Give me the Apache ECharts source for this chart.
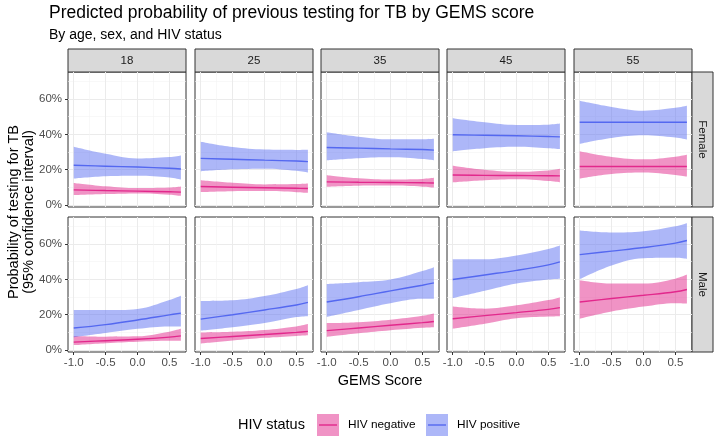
<!DOCTYPE html>
<html>
<head>
<meta charset="utf-8">
<title>Predicted probability of previous testing for TB</title>
<script src="https://cdn.jsdelivr.net/npm/echarts@6.0.0/dist/echarts.min.js"></script>
<style>
  html, body { margin: 0; padding: 0; background: #fff; }
  #chart { width: 720px; height: 440px; }
</style>
</head>
<body>
<div id="chart"></div>
<script>
// x positions of the model predictions (GEMS score)
var xs = [-1.0, -0.5, 0.0, 0.5, 0.68];
var ages = ['18', '25', '35', '45', '55'];
var sexes = ['Female', 'Male'];
var xTicks = [-1.0, -0.5, 0.0, 0.5];
var xMinor = [-0.75, -0.25, 0.25];
var yTicks = [0, 20, 40, 60];
var yMinor = [10, 30, 50, 70];

// one row per age, values in % at xs
var femNegFit = [[8.6, 8.2, 7.9, 7.5, 7.3], [10.5, 10.1, 9.8, 9.5, 9.4], [13.1, 12.9, 12.8, 12.6, 12.5], [17.0, 16.8, 16.7, 16.6, 16.5], [21.8, 21.8, 21.8, 21.8, 21.8]];
var femNegLo  = [[5.6, 6.2, 6.6, 5.9, 5.2], [7.3, 7.8, 7.9, 7.3, 6.9], [10.3, 10.9, 11.0, 10.4, 9.9], [12.8, 14.0, 14.6, 13.6, 12.9], [15.0, 17.6, 18.4, 17.0, 16.1]];
var femNegHi  = [[12.5, 10.6, 9.6, 9.9, 10.5], [14.0, 12.6, 11.7, 11.9, 12.2], [16.9, 15.2, 14.5, 14.8, 15.4], [22.3, 20.0, 18.8, 19.6, 20.6], [30.4, 27.2, 25.9, 27.4, 28.5]];
var femPosFit = [[22.5, 22.0, 21.5, 20.8, 20.4], [26.4, 25.9, 25.4, 24.9, 24.6], [32.6, 32.2, 31.8, 31.4, 31.1], [39.8, 39.5, 39.2, 38.8, 38.6], [46.9, 46.9, 46.9, 46.9, 46.9]];
var femPosLo  = [[15.0, 16.3, 16.6, 15.6, 14.4], [19.1, 20.2, 20.6, 19.4, 18.4], [25.3, 26.5, 27.0, 26.0, 25.3], [30.5, 32.2, 33.0, 32.2, 31.7], [34.7, 38.0, 39.5, 38.2, 37.1]];
var femPosHi  = [[33.0, 29.0, 26.4, 27.2, 28.1], [35.8, 32.8, 31.4, 31.2, 31.3], [41.2, 38.7, 37.2, 37.2, 37.5], [49.1, 46.8, 45.3, 45.5, 46.1], [59.0, 55.5, 53.4, 55.0, 56.2]];
var maleNegFit = [[4.5, 5.3, 6.1, 7.3, 8.0], [6.5, 7.7, 8.8, 10.0, 10.6], [11.0, 12.5, 14.0, 15.5, 16.2], [17.7, 19.5, 21.2, 23.0, 24.0], [27.2, 29.2, 31.0, 33.0, 34.3]];
var maleNegLo  = [[2.8, 3.9, 4.7, 5.2, 5.2], [3.7, 5.4, 6.9, 8.0, 8.4], [7.5, 9.5, 11.2, 12.6, 12.9], [12.1, 14.9, 18.0, 19.0, 19.2], [17.7, 21.8, 24.6, 26.5, 26.3]];
var maleNegHi  = [[8.0, 7.6, 7.8, 10.4, 12.0], [10.0, 10.4, 11.4, 13.4, 14.7], [15.3, 15.8, 17.2, 19.4, 20.7], [24.6, 23.4, 25.3, 28.3, 29.8], [39.5, 37.6, 37.6, 40.4, 42.7]];
var malePosFit = [[12.5, 14.4, 17.0, 19.9, 20.9], [17.5, 20.0, 22.7, 25.5, 27.0], [27.2, 30.2, 33.5, 36.7, 38.0], [39.9, 42.5, 45.1, 48.2, 49.9], [54.0, 56.0, 58.0, 60.5, 62.0]];
var malePosLo  = [[7.3, 9.7, 12.0, 13.4, 13.4], [11.0, 12.9, 15.3, 18.7, 19.2], [18.8, 22.7, 26.5, 29.0, 29.0], [29.3, 33.5, 37.6, 39.9, 40.4], [40.1, 47.9, 52.0, 52.2, 51.6]];
var malePosHi  = [[22.7, 22.6, 23.3, 28.3, 30.7], [27.8, 28.2, 30.6, 34.6, 36.7], [37.4, 38.4, 39.9, 44.7, 46.9], [51.4, 51.4, 53.5, 57.2, 59.2], [67.6, 66.5, 67.2, 70.0, 71.7]];

var font = "'Liberation Sans', Arial, Helvetica, sans-serif";
var negLine = '#E2288C', negBand = 'rgba(226,40,140,0.5)';
var posLine = '#5468F0', posBand = 'rgba(84,104,240,0.48)';

var colLeft = [68, 195, 321, 447, 574];
var rowTop = [72, 217];
var panelW = 118, panelH = 135;
var xMin = -1.09, xMax = 0.76, yMin = -1.1, yMax = 75.3;

var chart = echarts.init(document.getElementById('chart'));
var grids = [], xAxes = [], yAxes = [], series = [], graphics = [];

// band = invisible lower line + stacked (hi - lo) area.
// data is [y, x] with encode so that the stack goes on y, not x
function addBand(g, lo, hi, bandColor, key) {
    var stack = 'band' + g + key;
    series.push({
        type: 'line', xAxisIndex: 2 * g, yAxisIndex: 2 * g, stack: stack, smooth: 0.4,
        encode: { x: 1, y: 0 },
        symbol: 'none', silent: true, lineStyle: { opacity: 0 }, z: 2,
        data: xs.map(function (x, i) { return [lo[i], x]; })
    });
    series.push({
        type: 'line', xAxisIndex: 2 * g, yAxisIndex: 2 * g, stack: stack, smooth: 0.4,
        encode: { x: 1, y: 0 },
        symbol: 'none', silent: true, lineStyle: { opacity: 0 }, z: 2,
        areaStyle: { color: bandColor, opacity: 1 },
        data: xs.map(function (x, i) { return [hi[i] - lo[i], x]; })
    });
}
function addLine(g, fit, lineColor) {
    series.push({
        type: 'line', xAxisIndex: 2 * g, yAxisIndex: 2 * g, smooth: 0.4,
        symbol: 'none', silent: true, z: 3, lineStyle: { color: lineColor, width: 1.4 },
        data: xs.map(function (x, i) { return [x, fit[i]]; })
    });
}

for (var r = 0; r < 2; r++) {
    for (var c = 0; c < 5; c++) {
        var g = r * 5 + c;
        grids.push({
            left: colLeft[c], top: rowTop[r], width: panelW, height: panelH,
            show: true, borderColor: '#333', borderWidth: 1, backgroundColor: '#fff',
            outerBoundsMode: 'none'
        });
        var showX = r === 1, showY = c === 0;
        xAxes.push({
            type: 'value', gridIndex: g, min: xMin, max: xMax,
            axisLine: { show: false, onZero: false },
            axisTick: { show: showX, customValues: xTicks, length: 3, lineStyle: { color: '#333' } },
            axisLabel: { show: showX, customValues: xTicks, margin: 5, color: '#4D4D4D', fontSize: 11.5, fontFamily: font,
                formatter: function (v) { return v.toFixed(1); } },
            splitLine: { show: true, lineStyle: { color: '#EBEBEB', width: 1 } }
        });
        xAxes.push({
            type: 'value', gridIndex: g, min: xMin, max: xMax,
            axisLine: { show: false, onZero: false },
            axisTick: { show: false, customValues: xMinor },
            axisLabel: { show: false, customValues: xMinor },
            splitLine: { show: true, lineStyle: { color: '#F3F3F3', width: 0.6 } }
        });
        yAxes.push({
            type: 'value', gridIndex: g, min: yMin, max: yMax,
            axisLine: { show: false, onZero: false },
            axisTick: { show: showY, customValues: yTicks, length: 3, lineStyle: { color: '#333' } },
            axisLabel: { show: showY, customValues: yTicks, margin: 6, color: '#4D4D4D', fontSize: 11.5, fontFamily: font,
                formatter: function (v) { return v + '%'; } },
            splitLine: { show: true, lineStyle: { color: '#EBEBEB', width: 1 } }
        });
        yAxes.push({
            type: 'value', gridIndex: g, min: yMin, max: yMax,
            axisLine: { show: false, onZero: false },
            axisTick: { show: false, customValues: yMinor },
            axisLabel: { show: false, customValues: yMinor },
            splitLine: { show: true, lineStyle: { color: '#F3F3F3', width: 0.6 } }
        });

        var nf = r === 0 ? femNegFit : maleNegFit, nl = r === 0 ? femNegLo : maleNegLo, nh = r === 0 ? femNegHi : maleNegHi;
        var pf = r === 0 ? femPosFit : malePosFit, pl = r === 0 ? femPosLo : malePosLo, ph = r === 0 ? femPosHi : malePosHi;
        addBand(g, nl[c], nh[c], negBand, 'n');
        addBand(g, pl[c], ph[c], posBand, 'p');
        addLine(g, nf[c], negLine);
        addLine(g, pf[c], posLine);
    }
}

// facet strips
ages.forEach(function (a, c) {
    graphics.push({ type: 'rect', shape: { x: colLeft[c], y: 49, width: panelW, height: 23 },
        style: { fill: '#D9D9D9', stroke: '#333', lineWidth: 1 } });
    graphics.push({ type: 'text', x: colLeft[c] + panelW / 2, y: 61,
        style: { text: a, fill: '#1A1A1A', font: '11.5px ' + font, textAlign: 'center', textVerticalAlign: 'middle' } });
});
sexes.forEach(function (s, r) {
    graphics.push({ type: 'rect', shape: { x: 692, y: rowTop[r], width: 21, height: panelH },
        style: { fill: '#D9D9D9', stroke: '#333', lineWidth: 1 } });
    graphics.push({ type: 'text', x: 702.5, y: rowTop[r] + panelH / 2, rotation: -Math.PI / 2,
        style: { text: s, fill: '#1A1A1A', font: '11.5px ' + font, textAlign: 'center', textVerticalAlign: 'middle' } });
});

// axis titles
graphics.push({ type: 'text', x: 380, y: 381,
    style: { text: 'GEMS Score', fill: '#000', font: '14.5px ' + font, textAlign: 'center', textVerticalAlign: 'middle' } });
graphics.push({ type: 'text', x: 21, y: 212, rotation: Math.PI / 2,
    style: { text: 'Probability of testing for TB\n(95% confidence interval)', fill: '#000', font: '14.5px ' + font,
        lineHeight: 15, textAlign: 'center', textVerticalAlign: 'middle' } });

// legend
graphics.push({ type: 'text', x: 238, y: 425,
    style: { text: 'HIV status', fill: '#000', font: '14.5px ' + font, textAlign: 'left', textVerticalAlign: 'middle' } });
[['HIV negative', negLine, negBand, 317, 348], ['HIV positive', posLine, posBand, 426, 457]].forEach(function (k) {
    graphics.push({ type: 'rect', shape: { x: k[3], y: 414, width: 22, height: 22 }, style: { fill: k[2] } });
    graphics.push({ type: 'line', shape: { x1: k[3] + 2, y1: 425, x2: k[3] + 20, y2: 425 }, style: { stroke: k[1], lineWidth: 1.4 } });
    graphics.push({ type: 'text', x: k[4], y: 425,
        style: { text: k[0], fill: '#000', font: '11.8px ' + font, textAlign: 'left', textVerticalAlign: 'middle' } });
});

chart.setOption({
    animation: false,
    title: {
        text: 'Predicted probability of previous testing for TB by GEMS score',
        subtext: 'By age, sex, and HIV status',
        left: 49, top: 4, padding: 0, itemGap: 6,
        textStyle: { fontSize: 17.5, fontWeight: 'normal', color: '#000', fontFamily: font },
        subtextStyle: { fontSize: 14, color: '#000', fontFamily: font }
    },
    grid: grids,
    xAxis: xAxes,
    yAxis: yAxes,
    series: series,
    graphic: graphics
});
</script>
</body>
</html>
